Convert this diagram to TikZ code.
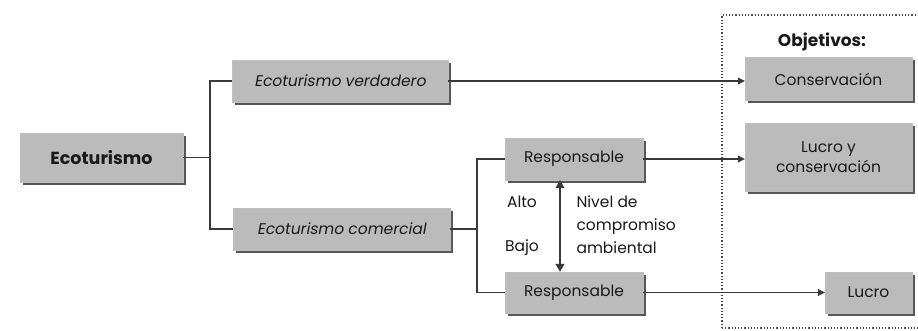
\documentclass[tikz,border=0pt]{standalone}
\usepackage{fontspec}
\setmainfont{Poppins}
\newfontfamily\slfont[FakeSlant=0.18]{Poppins}
\usetikzlibrary{arrows.meta,shadows}
\definecolor{boxfill}{HTML}{BBBBBB}
\definecolor{linec}{HTML}{3A3A3A}
\definecolor{shad}{HTML}{454545}
\begin{document}
\begin{tikzpicture}[x=1pt,y=-1pt,
  every node/.style={font=\fontsize{15.5}{18}\selectfont, text=black!90},
  gbox/.style={fill=boxfill, draw=black!25, line width=0.4pt, inner sep=0pt,
    drop shadow={shadow xshift=2.5pt, shadow yshift=-2.5pt, fill=shad, opacity=0.9}},
  conn/.style={draw=linec, line width=1.1pt},
  arr/.style={conn, -{Triangle[length=7pt,width=7pt]}},
  frame/.style={draw=black!70, line width=1.2pt, dotted}
]
\useasboundingbox (0,0) rectangle (918,330);
% frame
\draw[frame] (722,328) -- (722,15) -- (918,15);
\draw[frame] (722,328) -- (918,328);
% nodes
\node[gbox, minimum width=163pt, minimum height=49pt, font=\fontsize{17.5}{20}\selectfont\bfseries] (eco) at (101.5,157.5) {Ecoturismo};
\node[gbox, minimum width=216pt, minimum height=42pt] (ver) at (340,81) {\slfont Ecoturismo verdadero};
\node[gbox, minimum width=217pt, minimum height=42pt] (com) at (341.5,229) {\slfont Ecoturismo comercial};
\node[gbox, minimum width=138pt, minimum height=42pt] (r1) at (574,159) {Responsable};
\node[gbox, minimum width=138pt, minimum height=41pt] (r2) at (574,292.5) {Responsable};
\node[gbox, minimum width=167pt, minimum height=43pt] (cons) at (828.5,79) {Conservación};
\node[gbox, minimum width=167pt, minimum height=68pt, align=center, font=\fontsize{15.5}{20}\selectfont] (lyc) at (828.5,157) {Lucro y\\conservación};
\node[gbox, minimum width=87pt, minimum height=41pt] (luc) at (868.5,292.5) {Lucro};
\node[font=\fontsize{17}{20}\selectfont\bfseries] (obj) at (822,42) {Objetivos:};
\node (alto) at (522,202) {Alto};
\node (bajo) at (522,248) {Bajo};
\node[anchor=west, align=left, font=\fontsize{15.5}{23}\selectfont] (nivel) at (573,225) {Nivel de\\compromiso\\ambiental};
% junctions
\coordinate (j1) at (210,157.5);
\coordinate (j2) at (477,229);
\coordinate (ax) at (560,0);
\draw[conn] (eco.east) -- (j1);
\draw[conn] (ver.west) -| (j1);
\draw[conn] (com.west) -| (j1);
\draw[conn] (com.east) -- (j2);
\draw[conn] (r1.west) -| (j2);
\draw[conn] (r2.west) -| (j2);
\draw[arr] (ver.east) -- (ver.east -| cons.west);
\draw[arr] (r1.east) -- (r1.east -| lyc.west);
\draw[arr] (r2.east) -- (luc.west);
\draw[conn, {Triangle[length=8pt,width=9pt]}-{Triangle[length=8pt,width=9pt]}] (r1.south -| ax) -- (r2.north -| ax);
\end{tikzpicture}
\end{document}
